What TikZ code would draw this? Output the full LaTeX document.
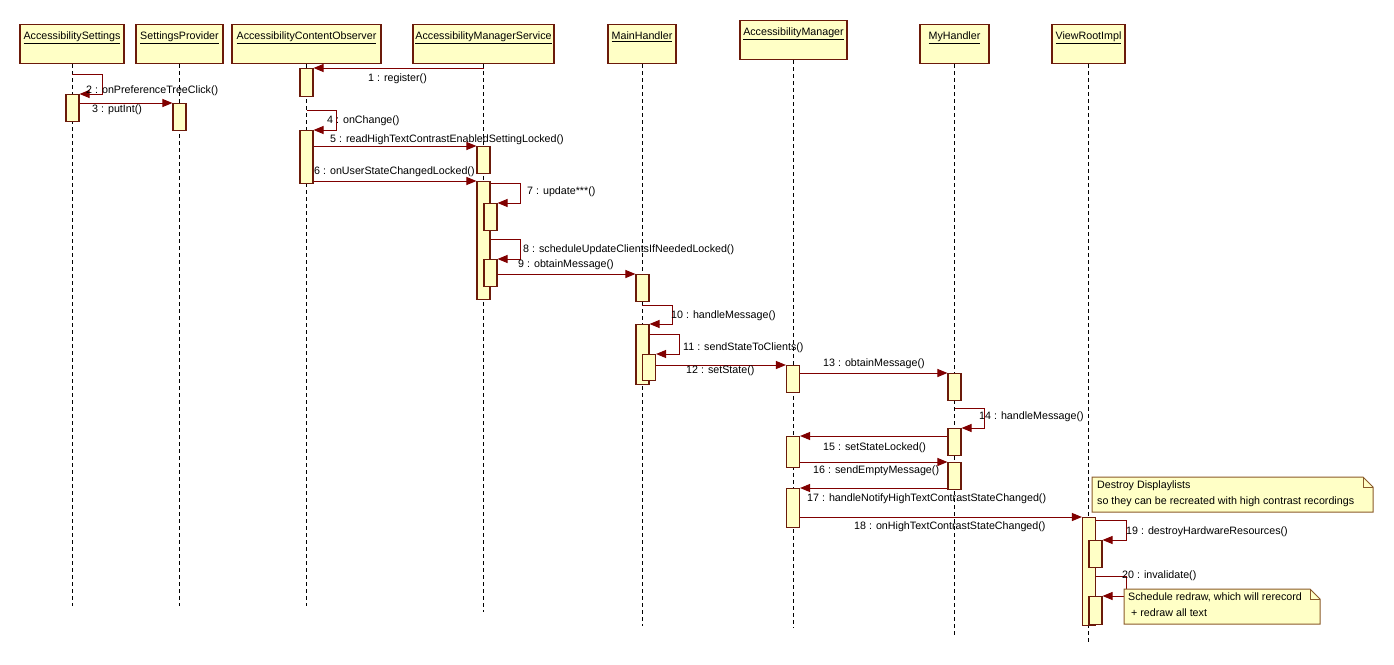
\documentclass[tikz,border=0pt]{standalone}
\usepackage{fontspec}
\setmainfont{Liberation Sans}
\usepackage{xcolor}
\usetikzlibrary{positioning, arrows.meta}
\definecolor{lineRed}{HTML}{800000}
\definecolor{boxFill}{HTML}{FFFFC6}
\definecolor{boxEdge}{HTML}{6B1A0A}
\definecolor{noteEdge}{HTML}{8A5A2A}

\begin{document}
\begin{tikzpicture}[x=1pt, y=-1pt,
    every node/.style={font=\fontsize{10.7}{13}\selectfont},
    obj/.style={draw=boxEdge, fill=boxFill, line width=1.1pt, anchor=north, inner sep=0, text height=15pt, text depth=24pt},
    act/.style={draw=boxEdge, fill=boxFill, line width=1.1pt, anchor=north, inner sep=0, minimum width=13pt},
    life/.style={black, line width=0.9pt, dash pattern=on 4pt off 3pt},
    msg/.style={lineRed, line width=1pt, -{Triangle[length=10pt, width=8pt]}},
    lbl/.style={anchor=west, inner sep=0},
    note/.style={draw=noteEdge, fill=boxFill, line width=1pt}]
    \useasboundingbox (0,0) rectangle (1394,664);

    % Objects
    \node[obj, minimum width=104pt] (set) at (72,24) {\underline{AccessibilitySettings}};
    \node[obj, minimum width=87pt] (sp) at (179.5,24) {\underline{SettingsProvider}};
    \node[obj, minimum width=149pt] (obs) at (306.5,24) {\underline{AccessibilityContentObserver}};
    \node[obj, minimum width=141pt] (ams) at (483.5,24) {\underline{AccessibilityManagerService}};
    \node[obj, minimum width=68pt] (mh) at (642,24) {\underline{MainHandler}};
    \node[obj, minimum width=107pt] (am) at (793.5,20) {\underline{AccessibilityManager}};
    \node[obj, minimum width=69pt] (my) at (954.5,24) {\underline{MyHandler}};
    \node[obj, minimum width=73pt] (vr) at (1088.5,24) {\underline{ViewRootImpl}};

    % Lifelines
    \coordinate (setEnd) at (set.south |- 0,606);
    \coordinate (spEnd) at (sp.south |- 0,606);
    \coordinate (obsEnd) at (obs.south |- 0,606);
    \coordinate (amsEnd) at (ams.south |- 0,612);
    \coordinate (mhEnd) at (mh.south |- 0,626);
    \coordinate (amEnd) at (am.south |- 0,628);
    \coordinate (myEnd) at (my.south |- 0,637);
    \coordinate (vrEnd) at (vr.south |- 0,644);
    \foreach \o in {set, sp, obs, ams, mh, am, my, vr}
        \draw[life] (\o.south) -- (\o End);

    % Activations
    \node[act, minimum height=27pt] (set1) at (72.5,94) {};
    \node[act, minimum height=27pt] (sp1) at (179.5,103) {};
    \node[act, minimum height=28pt] (obs1) at (306.5,68) {};
    \node[act, minimum height=53pt] (obs2) at (306.5,130) {};
    \node[act, minimum height=27pt] (ams1) at (483.5,146) {};
    \node[act, minimum height=118pt] (ams2) at (483.5,181) {};
    \node[act, minimum height=27pt] (ams3) at (490.5,203) {};
    \node[act, minimum height=27pt] (ams4) at (490.5,259) {};
    \node[act, minimum height=27pt] (mh1) at (642.5,274) {};
    \node[act, minimum height=60pt] (mh2) at (642.5,324) {};
    \node[act, minimum height=26pt] (mh3) at (649,354) {};
    \node[act, minimum height=27pt] (am1) at (793,365) {};
    \node[act, minimum height=31pt] (am2) at (793,436) {};
    \node[act, minimum height=39pt] (am3) at (793,488) {};
    \node[act, minimum height=27pt] (my1) at (954.5,373) {};
    \node[act, minimum height=27pt] (my2) at (954.5,428) {};
    \node[act, minimum height=27pt] (my3) at (954.5,462) {};
    \node[act, minimum height=108pt] (vr1) at (1089,517) {};
    \node[act, minimum height=27pt] (vr2) at (1095.5,540) {};
    \node[act, minimum height=28pt] (vr3) at (1095.5,596) {};

    % Messages
    \draw[msg] (ams.south |- obs1.north) -- (obs1.north east);
    \draw[msg] (set.south |- 0,74) -- ++(30,0) |- (set1.north east);
    \draw[msg] (set1.east |- sp1.north) -- (sp1.north west);
    \draw[msg] (obs.south |- 0,110) -- ++(30,0) |- (obs2.north east);
    \draw[msg] (obs2.east |- ams1.north) -- (ams1.north west);
    \draw[msg] (obs2.east |- ams2.north) -- (ams2.north west);
    \draw[msg] (ams2.east |- 0,183) -- ++(30,0) |- (ams3.north east);
    \draw[msg] (ams2.east |- 0,239) -- ++(30,0) |- (ams4.north east);
    \draw[msg] (ams4.east |- mh1.north) -- (mh1.north west);
    \draw[msg] (mh.south |- 0,305) -- ++(30,0) |- (mh2.north east);
    \draw[msg] (mh2.east |- 0,334) -- ++(30,0) |- (mh3.north east);
    \draw[msg] (mh3.east |- am1.north) -- (am1.north west);
    \draw[msg] (am1.east |- my1.north) -- (my1.north west);
    \draw[msg] (my.south |- 0,408) -- ++(30,0) |- (my2.north east);
    \draw[msg] (my2.west |- am2.north) -- (am2.north east);
    \draw[msg] (am2.east |- my3.north) -- (my3.north west);
    \draw[msg] (my3.west |- am3.north) -- (am3.north east);
    \draw[msg] (am3.east |- vr1.north) -- (vr1.north west);
    \draw[msg] (vr1.east |- 0,520) -- ++(30,0) |- (vr2.north east);
    \draw[msg] (vr1.east |- 0,576) -- ++(30,0) |- (vr3.north east);

    % Labels
    \node[lbl] (m1) at (368,79) {1 : register()};
    \node[lbl] (m2) at (86,91) {2 : onPreferenceTreeClick()};
    \node[lbl] (m3) at (92,110) {3 : putInt()};
    \node[lbl] (m4) at (327,121) {4 : onChange()};
    \node[lbl] (m5) at (330,140) {5 : readHighTextContrastEnabledSettingLocked()};
    \node[lbl] (m6) at (314,172) {6 : onUserStateChangedLocked()};
    \node[lbl] (m7) at (527,192) {7 : update***()};
    \node[lbl] (m8) at (523,250) {8 : scheduleUpdateClientsIfNeededLocked()};
    \node[lbl] (m9) at (518,265) {9 : obtainMessage()};
    \node[lbl] (m10) at (671,316) {10 : handleMessage()};
    \node[lbl] (m11) at (683,348) {11 : sendStateToClients()};
    \node[lbl] (m12) at (686,371) {12 : setState()};
    \node[lbl] (m13) at (823,364) {13 : obtainMessage()};
    \node[lbl] (m14) at (979,417) {14 : handleMessage()};
    \node[lbl] (m15) at (823,448) {15 : setStateLocked()};
    \node[lbl] (m16) at (813,471) {16 : sendEmptyMessage()};
    \node[lbl] (m17) at (807,499) {17 : handleNotifyHighTextContrastStateChanged()};
    \node[lbl] (m18) at (854,527) {18 : onHighTextContrastStateChanged()};
    \node[lbl] (m19) at (1126,532) {19 : destroyHardwareResources()};
    \node[lbl] (m20) at (1122,576) {20 : invalidate()};

    % Notes
    \filldraw[note] (1092,477) -- (1363,477) -- (1373,487) -- (1373,512) -- (1092,512) -- cycle;
    \draw[note, fill=none] (1363,477) |- (1373,487);
    \node[lbl, anchor=north west, align=left, font=\fontsize{10.7}{16}\selectfont] (note1) at (1097,481)
        {Destroy Displaylists\\so they can be recreated with high contrast recordings};
    \filldraw[note] (1124,589) -- (1310,589) -- (1320,599) -- (1320,624) -- (1124,624) -- cycle;
    \draw[note, fill=none] (1310,589) |- (1320,599);
    \node[lbl, anchor=north west, align=left, font=\fontsize{10.7}{16}\selectfont] (note2) at (1128,593)
        {Schedule redraw, which will rerecord\\\ + redraw all text};
\end{tikzpicture}
\end{document}
